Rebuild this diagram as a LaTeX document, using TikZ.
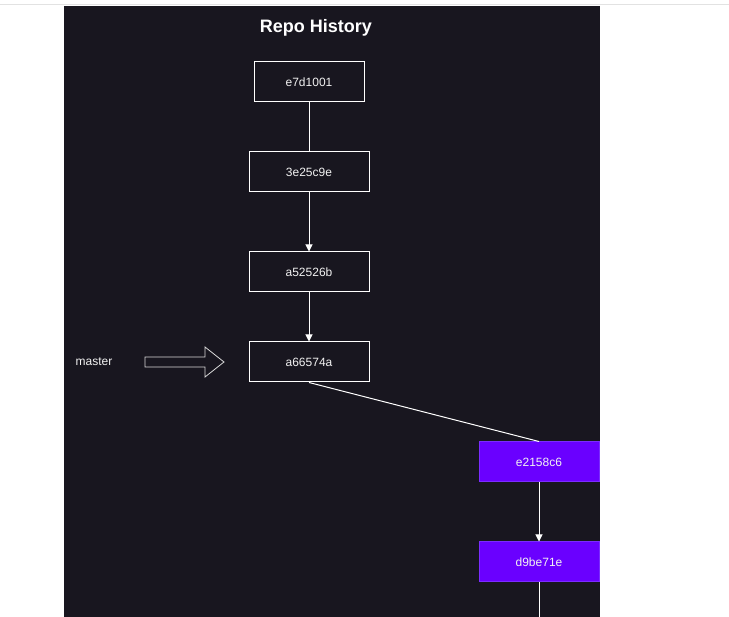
\documentclass[tikz,border=0pt]{standalone}
\usepackage{fontspec}
\setmainfont{Liberation Sans}
\usetikzlibrary{positioning, arrows.meta}
\definecolor{bgdark}{HTML}{18161F}
\definecolor{topline}{HTML}{E2E2E2}
\definecolor{commitpurple}{HTML}{6A00FF}
\definecolor{commitborder}{HTML}{7B2CFF}
\definecolor{textlight}{HTML}{F2F2F2}
\newcommand{\commitcolor}{bgdark}
\newcommand{\branchcolor}{commitpurple}

\begin{document}
\begin{tikzpicture}[
      x=1pt, y=-1pt,
      % GLOBAL CFG
      font=\fontsize{12}{14}\selectfont,
      >={Triangle[width=7pt,length=7pt]},
      % Styles
      commit/.style={% For commits on master
        rectangle,
        draw=white,
        line width=1pt,
        fill=\commitcolor,
        text=textlight,
        minimum height=40pt,
        minimum width=120pt,
        inner sep=1pt
      },
      branchcommit/.style={% For commits on the branch
        commit,
        draw=commitborder,
        fill=\branchcolor
      },
      link/.style={% Plain history link
        draw=white,
        line width=1pt
      },
      arrowlink/.style={% History link with a head
        link,
        ->
      }
      ]

      % Canvas and frame
      \useasboundingbox (0,0) rectangle (729,617);
      \fill [white] (0,0) rectangle (729,617);
      \draw [topline, line width=1pt] (0,5) -- (729,5);
      \fill [bgdark] (64,6) rectangle (600,617);

      \node [text=white, font=\fontsize{18}{20}\selectfont\bfseries] (title) at (316,27.5) {Repo History};

      % Draw the commits:
      \node [commit, minimum width=110pt] (c1) at (309,82) {e7d1001};
      \node [commit] (c2) at (309,172) {3e25c9e};
      \node [commit] (c3) at (309,272) {a52526b};
      \node [commit] (c4) at (309,362) {a66574a};
      \node [branchcommit] (b1) at (539,462) {e2158c6};
      \node [branchcommit] (b2) at (539,562) {d9be71e};
      \coordinate (bend) at (539,617);

      \draw [link] (c1) -- (c2);
      \draw [arrowlink] (c2) -- (c3);
      \draw [arrowlink] (c3) -- (c4);
      \draw [link] (c4.south) -- (b1.north);
      \draw [arrowlink] (b1) -- (b2);
      \draw [link] (b2) -- (bend);

      % Branch pointer
      \node [text=textlight] (master) at (94,362) {master};
      \draw [draw=white!85!black, fill=bgdark, line width=0.8pt]
        (145,357) -- (205,357) -- (205,347) -- (224,362) -- (205,377)
        -- (205,367) -- (145,367) -- cycle;

    \end{tikzpicture}
\end{document}
